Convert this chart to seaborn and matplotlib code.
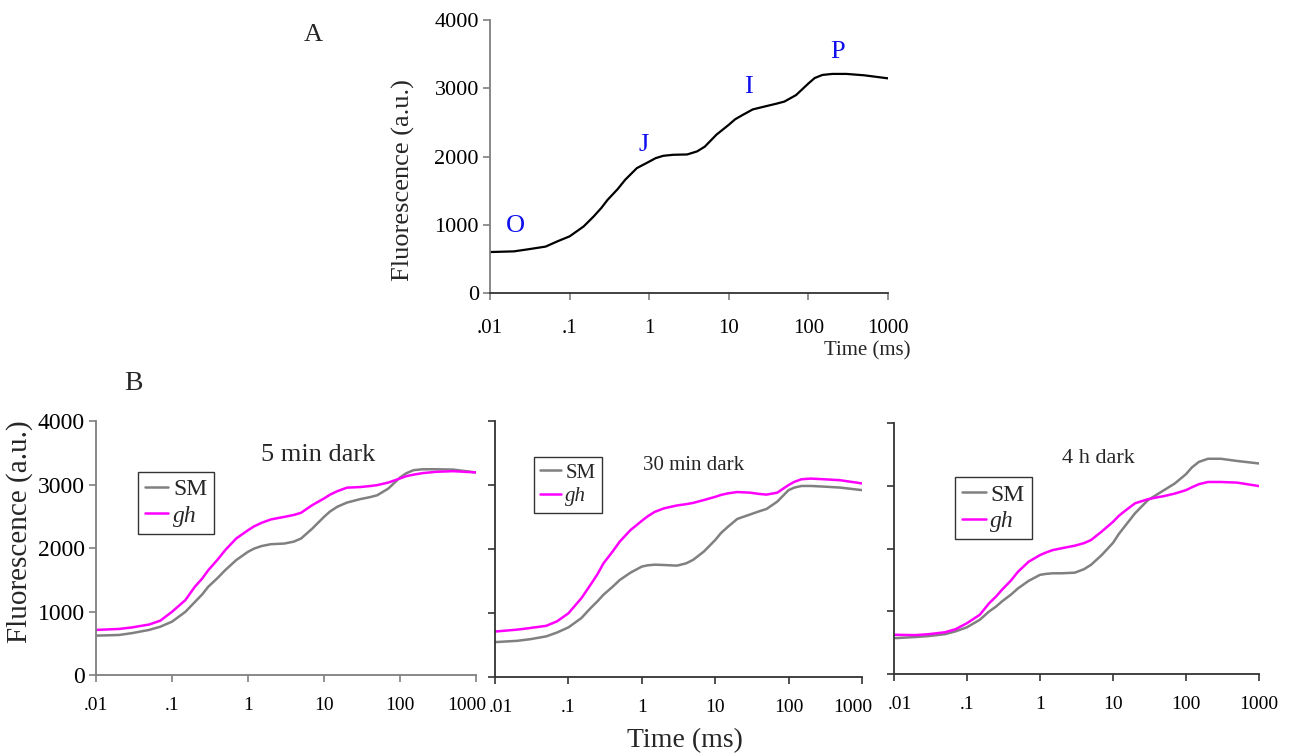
import numpy as np
import pandas as pd
import matplotlib
matplotlib.use("Agg")
import matplotlib.pyplot as plt
import matplotlib.transforms as mtrans
import seaborn as sns

# time points (ms) shared by all traces
t = [0.01, 0.02, 0.03, 0.05, 0.07, 0.1, 0.15, 0.2, 0.25, 0.3, 0.4, 0.5, 0.7, 1, 1.2,
     1.5, 2, 3, 4, 5, 7, 10, 12, 15, 20, 30, 40, 50, 70, 100, 120, 150, 200, 300, 500, 1000]

# panel A - OJIP transient
a_val = [600, 610, 640, 680, 756, 830, 975, 1120, 1245, 1365, 1520, 1660, 1830, 1925, 1975,
         2010, 2025, 2030, 2075, 2145, 2320, 2465, 2545, 2610, 2690, 2740, 2775, 2805, 2900,
         3070, 3150, 3195, 3210, 3210, 3190, 3145]
a_marks = ["O", "J", "I", "P"]
a_mark_x = [0.0206, 0.84, 17.9, 235]
a_mark_y = [982, 2168, 3018, 3531]

# panel B - 5 min dark
b1_sm = [620, 630, 660, 710, 760, 840, 995, 1150, 1270, 1390, 1530, 1650, 1810, 1940, 1990,
         2030, 2060, 2070, 2100, 2150, 2305, 2490, 2575, 2650, 2715, 2770, 2800, 2830, 2935,
         3110, 3175, 3225, 3240, 3240, 3235, 3190]
b1_gh = [710, 725, 750, 795, 855, 995, 1180, 1390, 1520, 1650, 1820, 1965, 2150, 2280, 2340,
         2395, 2450, 2490, 2520, 2555, 2675, 2780, 2840, 2895, 2950, 2960, 2975, 2990, 3030,
         3095, 3130, 3155, 3180, 3200, 3210, 3190]
# 30 min dark
b2_sm = [545, 565, 590, 635, 695, 775, 920, 1075, 1185, 1285, 1410, 1515, 1630, 1725, 1745,
         1755, 1750, 1740, 1775, 1830, 1960, 2140, 2250, 2350, 2470, 2540, 2590, 2625, 2740,
         2920, 2960, 2985, 2985, 2975, 2960, 2920]
b2_gh = [710, 740, 765, 800, 870, 995, 1230, 1440, 1610, 1775, 1960, 2115, 2295, 2440, 2510,
         2580, 2635, 2680, 2700, 2720, 2765, 2815, 2845, 2870, 2890, 2880, 2860, 2850, 2880,
         3000, 3050, 3090, 3100, 3090, 3075, 3025]
# 4 h dark
b3_sm = [570, 590, 605, 635, 680, 745, 865, 995, 1075, 1155, 1265, 1365, 1485, 1580, 1595,
         1605, 1605, 1615, 1670, 1740, 1895, 2090, 2230, 2375, 2560, 2770, 2860, 2930, 3035,
         3185, 3290, 3380, 3430, 3430, 3395, 3355]
b3_gh = [625, 620, 635, 665, 715, 810, 945, 1125, 1235, 1340, 1490, 1630, 1790, 1895, 1935,
         1975, 2005, 2045, 2085, 2135, 2270, 2425, 2520, 2610, 2720, 2785, 2815, 2835, 2875,
         2930, 2975, 3025, 3060, 3060, 3050, 2995]

b_titles = ["5 min dark", "30 min dark", "4 h dark"]
x_ticks = [0.01, 0.1, 1, 10, 100, 1000]
x_labels = [".01", ".1", "1", "10", "100", "1000"]
y_ticks = [0, 1000, 2000, 3000, 4000]

sns.set_style("ticks")
plt.rcParams["font.family"] = ["Liberation Serif", "DejaVu Serif"]
plt.rcParams["lines.solid_joinstyle"] = "round"

W, H = 1293, 756
fig = plt.figure(figsize=(W / 100, H / 100), dpi=100)


def px_axes(l, r, top, bot):
    return fig.add_axes([l / W, 1 - bot / H, (r - l) / W, (bot - top) / H])


def style_axes(ax, spine_col, xsize, ysize, xpad, show_y=True):
    ax.set_xscale("log")
    ax.set_xlim(0.01, 1000)
    ax.set_ylim(0, 4000)
    ax.set_xticks(x_ticks)
    ax.set_xticklabels(x_labels)
    ax.minorticks_off()
    ax.set_yticks(y_ticks)
    if not show_y:
        ax.set_yticklabels([])
    sns.despine(ax=ax)
    for s in ["left", "bottom"]:
        ax.spines[s].set_color(spine_col)
        ax.spines[s].set_linewidth(1.3)
    ax.tick_params(axis="both", direction="out", length=5, width=1.2, colors=spine_col,
                   labelcolor="black")
    ax.tick_params(axis="x", labelsize=xsize, pad=xpad)
    ax.tick_params(axis="y", labelsize=ysize, pad=3)
    ax.set_xlabel("")
    ax.set_ylabel("")


def shift_label(lab, dx):
    lab.set_transform(lab.get_transform() + mtrans.ScaledTranslation(dx / 100, 0, fig.dpi_scale_trans))


# ---- panel A ----
axA = px_axes(490, 888, 20, 293)
dfA = pd.DataFrame({"t": t, "F": a_val})
sns.lineplot(data=dfA, x="t", y="F", color="black", linewidth=1.6, ax=axA, estimator=None)
style_axes(axA, "#7f7f7f", 15, 16, 14)
axA.spines["bottom"].set_color("#333333")
for m, mx, my in zip(a_marks, a_mark_x, a_mark_y):
    axA.text(mx, my, m, color="#1010ee", fontsize=19, ha="center", va="center")
fig.text(403 / W, 1 - 180 / H, "Fluorescence (a.u.)", rotation=90, fontsize=19,
         ha="center", va="center")
fig.text(910 / W, 1 - 351 / H, "Time (ms)", fontsize=15, ha="right", va="center")
fig.text(313 / W, 1 - 35 / H, "A", fontsize=19, ha="center", va="center")

# ---- panel B ----
boxes = [(96, 476, 421, 675), (495, 862, 421, 677), (894, 1259, 423, 674)]
spine_cols = ["#7f7f7f", "#333333", "#333333"]
series = [(b1_sm, b1_gh), (b2_sm, b2_gh), (b3_sm, b3_gh)]
title_pos = [(0.584, 0.866, 19), (0.54, 0.828, 15), (0.559, 0.857, 16)]
leg_pos = [(0.11, 0.80, 17), (0.106, 0.86, 15), (0.167, 0.785, 17)]
palette = {"SM": "#808080", "gh": "#ff00ff"}

for i, ((l, r, tp, bt), (sm, gh)) in enumerate(zip(boxes, series)):
    ax = px_axes(l, r, tp, bt)
    df = pd.DataFrame({"t": t * 2, "F": sm + gh, "line": ["SM"] * len(t) + ["gh"] * len(t)})
    sns.lineplot(data=df, x="t", y="F", hue="line", palette=palette, linewidth=1.8,
                 ax=ax, estimator=None, sort=False)
    style_axes(ax, spine_cols[i], 14, 17, 11, show_y=(i == 0))
    xlabs = ax.get_xticklabels()
    if i < 2:
        shift_label(xlabs[-1], -9)
    if i > 0:
        shift_label(xlabs[0], 6)
    tx, ty, ts = title_pos[i]
    ax.text(tx, ty, b_titles[i], transform=ax.transAxes, fontsize=ts, ha="center", va="center")
    lx, ly, ls = leg_pos[i]
    handles, labels = ax.get_legend_handles_labels()
    leg = ax.legend(handles, labels, loc="upper left", bbox_to_anchor=(lx, ly),
                    frameon=True, fancybox=False, edgecolor="black", fontsize=ls,
                    handlelength=1.0, handletextpad=0.2, borderpad=0.3,
                    labelspacing=0.2, borderaxespad=0)
    leg.get_frame().set_linewidth(1.0)
    for txt in leg.get_texts():
        if txt.get_text() == "gh":
            txt.set_style("italic")

fig.text(20 / W, 1 - 532 / H, "Fluorescence (a.u.)", rotation=90, fontsize=21,
         ha="center", va="center")
fig.text(685 / W, 1 - 741 / H, "Time (ms)", fontsize=20, ha="center", va="center")
fig.text(133 / W, 1 - 383 / H, "B", fontsize=20, ha="center", va="center")

fig.savefig("out.png", dpi=100)
